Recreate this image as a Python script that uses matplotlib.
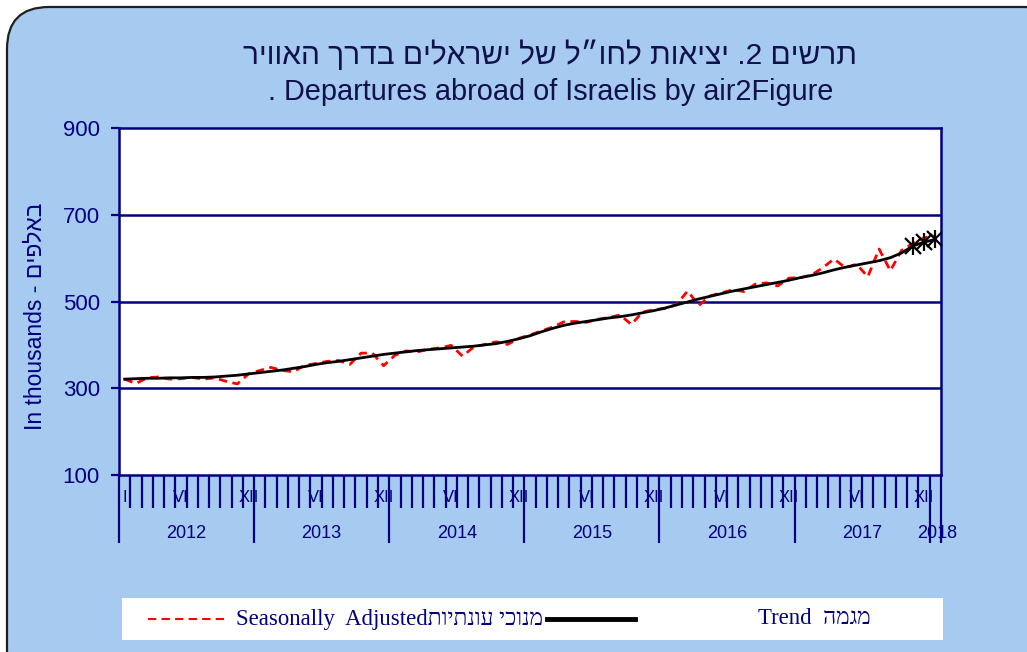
import numpy as np
import matplotlib
matplotlib.use("Agg")
import matplotlib.pyplot as plt
from matplotlib.patches import FancyBboxPatch, Rectangle
from matplotlib.lines import Line2D
from matplotlib.transforms import blended_transform_factory

# Monthly data, Jan 2012 .. Jan 2018 (thousands)
years = ["2012", "2013", "2014", "2015", "2016", "2017", "2018"]
seasonally_adjusted = [
    321, 311, 324, 326, 321, 322, 325, 321, 324, 316, 310, 333,
    341, 348, 341, 338, 353, 357, 362, 364, 355, 381, 381, 352,
    376, 386, 384, 390, 393, 399, 374, 395, 401, 407, 401, 415,
    423, 432, 441, 453, 454, 452, 459, 463, 469, 447, 476, 481,
    484, 493, 524, 491, 513, 520, 527, 523, 540, 543, 536, 554,
    555, 561, 578, 598, 578, 586, 557, 621, 571, 618, 634, 647,
    651,
]
trend = [
    321, 322, 323, 323, 324, 324, 325, 325, 326, 328, 330, 333,
    336, 339, 342, 346, 350, 355, 359, 362, 366, 370, 374, 378,
    381, 384, 387, 389, 391, 393, 395, 397, 400, 403, 408, 414,
    421, 430, 438, 445, 450, 454, 458, 462, 465, 469, 474, 479,
    485, 492, 499, 506, 512, 518, 524, 529, 534, 539, 544, 549,
    555, 560, 566, 573, 579, 584, 589, 594, 601, 612, 628, 637,
    643,
]
n_estimated = 3  # last trend points drawn as estimates

NAVY = "#000080"
BG = "#A6CAF0"
PX = 0.72  # points per pixel at dpi 100
plt.rcParams["font.family"] = ["Liberation Sans", "DejaVu Sans"]


def rtl(s):
    # matplotlib lays text out left to right; flip Hebrew to visual order
    return s[::-1]


fig = plt.figure(figsize=(10.27, 6.52), dpi=100)
fig.patch.set_facecolor("white")

# rounded light-blue panel
panel = FancyBboxPatch((0.07, -0.4), 10.6, 6.85,
                       boxstyle="round,pad=0,rounding_size=0.42",
                       transform=fig.dpi_scale_trans, facecolor=BG,
                       edgecolor="#202020", linewidth=1.6, zorder=-5)
fig.patches.append(panel)

ax = fig.add_axes([119 / 1027, 1 - 475 / 652, 822 / 1027, 347 / 652])
ax.set_facecolor("white")
n = len(trend)
x = np.arange(n) + 0.5

for yv in [300, 500, 700]:
    ax.axhline(yv, color=NAVY, linewidth=1.8, zorder=1)
ax.plot(x, seasonally_adjusted, color="red", linestyle=(0, (3, 2)),
        linewidth=2.0, zorder=3)
ax.plot(x, trend, color="black", linewidth=2.0, zorder=4)
ax.plot(x[-n_estimated:], trend[-n_estimated:], linestyle="none",
        marker="x", markersize=11, markeredgewidth=1.6, color="black", zorder=5)
ax.plot(x[-n_estimated:], trend[-n_estimated:], linestyle="none",
        marker="|", markersize=13, markeredgewidth=1.6, color="black", zorder=5)

ax.set_xlim(0, n)
ax.set_ylim(100, 900)
ax.set_yticks([100, 300, 500, 700, 900])
ax.tick_params(axis="y", direction="out", length=8 * PX, width=1.6,
               color=NAVY, labelcolor=NAVY, labelsize=16, pad=8)
year_edges = list(range(0, n, 12)) + [n]
ax.set_xticks(year_edges)
ax.set_xticks(range(n + 1), minor=True)
ax.set_xticklabels([])
ax.tick_params(axis="x", which="major", direction="out", length=68 * PX,
               width=1.6, color=NAVY)
ax.tick_params(axis="x", which="minor", direction="out", length=33 * PX,
               width=1.6, color=NAVY)
for s in ax.spines.values():
    s.set_color(NAVY)
    s.set_linewidth(1.8)

tr = blended_transform_factory(ax.transData, ax.transAxes)
ax.text(0.5, -0.065, "I", transform=tr, ha="center", va="center",
        fontsize=12, color=NAVY)
for k in range(6):
    ax.text(5.5 + 12 * k, -0.065, "VI", transform=tr, ha="center",
            va="center", fontsize=12, color=NAVY)
    ax.text(11.5 + 12 * k, -0.065, "XII", transform=tr, ha="center",
            va="center", fontsize=12, color=NAVY)
for k, yr in enumerate(years):
    xc = 6 + 12 * k if k < 6 else 72.7
    ax.text(xc, -0.17, yr, transform=tr, ha="center", va="center",
            fontsize=13, color=NAVY)

fig.text(35 / 1027, 1 - 316 / 652, "In thousands - " + rtl("באלפים"),
         rotation=90, ha="center", va="center", fontsize=16.5, color=NAVY)

fig.text(550 / 1027, 1 - 55 / 652,
         rtl("תרשים 2. יציאות לחו״ל של ישראלים בדרך האוויר"),
         ha="center", va="center", fontsize=21.5, color="#10104A")
fig.text(551 / 1027, 1 - 92 / 652,
         ". Departures abroad of Israelis by air2Figure",
         ha="center", va="center", fontsize=20.8, color="#10104A")

# legend strip
fig.patches.append(Rectangle((1.22, 0.12), 8.21, 0.42, facecolor="white",
                             edgecolor="none",
                             transform=fig.dpi_scale_trans, zorder=1))
fig.lines.append(Line2D([1.48, 2.26], [0.33, 0.33], color="red",
                        linestyle=(0, (4, 2.5)), linewidth=1.5,
                        transform=fig.dpi_scale_trans, zorder=2))
fig.lines.append(Line2D([5.47, 6.35], [0.33, 0.33], color="black",
                        linewidth=3.5, transform=fig.dpi_scale_trans, zorder=2))
serif = ["Liberation Serif", "DejaVu Sans"]
fig.text(2.36, 0.33, "Seasonally  Adjusted" + rtl("מנוכי עונתיות"),
         transform=fig.dpi_scale_trans, ha="left", va="center",
         fontsize=16.4, color=NAVY, family=serif)
fig.text(7.58, 0.33, "Trend  " + rtl("מגמה"),
         transform=fig.dpi_scale_trans, ha="left", va="center",
         fontsize=16.4, color=NAVY, family=serif)

fig.savefig("out.png", dpi=100)
